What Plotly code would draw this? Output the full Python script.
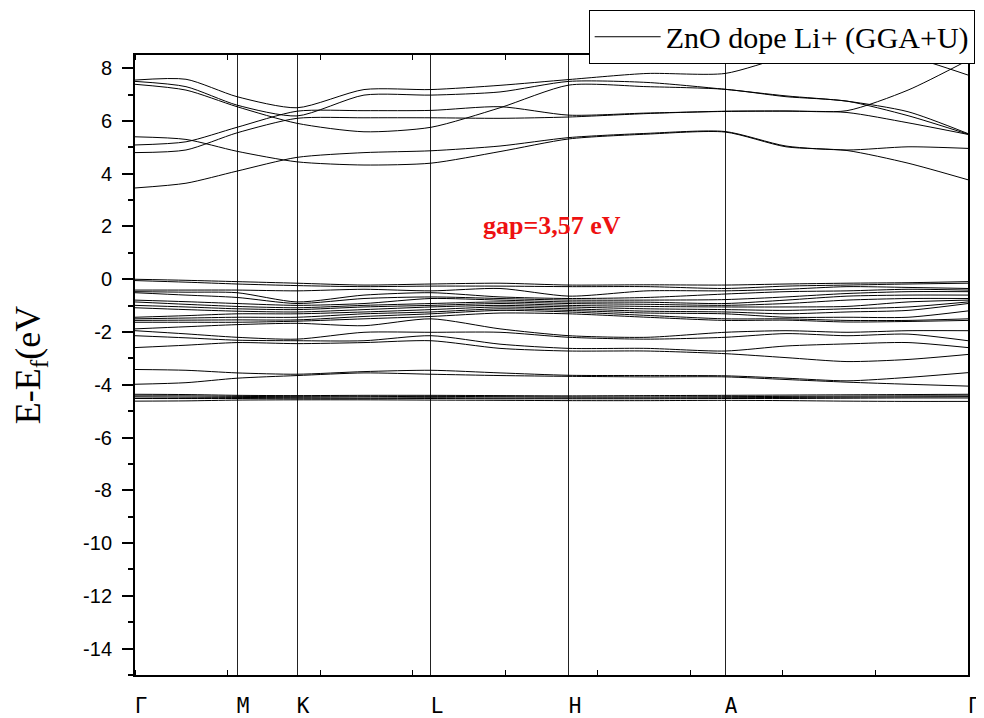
import plotly.graph_objects as go

# High-symmetry path
KPATH_LABELS = ['Γ', 'M', 'K', 'L', 'H', 'A', 'Γ']
KPATH_POS = [0.0, 0.1225, 0.1945, 0.3553, 0.5210, 0.7083, 1.0]
# k positions where band energies were read
K_SAMPLES = [0.0, 0.0612, 0.1225, 0.1945, 0.2749, 0.3553, 0.4382, 0.5210,
             0.6146, 0.7083, 0.7815, 0.8547, 0.9280, 1.0]

# Energy axis ticks
Y_TICKS = [8, 6, 4, 2, 0, -2, -4, -6, -8, -10, -12, -14]
Y_TICK_TEXT = ['8', '6', '4', '2', '0', '-2', '-4', '-6', '-8', '-10', '-12', '-14']

# Conduction bands (eV)
cb1 = [3.46, 3.64, 4.10, 4.62, 4.80, 4.87, 5.05, 5.37, 5.53, 5.60, 5.05, 4.90, 5.02, 4.96]
cb2 = [5.40, 5.30, 4.85, 4.45, 4.33, 4.40, 4.84, 5.32, 5.50, 5.58, 5.02, 4.88, 4.40, 3.77]
cb3 = [4.80, 4.90, 5.55, 6.10, 6.12, 6.12, 6.10, 6.15, 6.28, 6.37, 6.38, 6.39, 7.17, 8.30]
cb4 = [5.09, 5.21, 5.76, 6.37, 6.39, 6.40, 6.54, 6.22, 6.30, 6.36, 6.37, 6.32, 5.93, 5.49]
cb5 = [7.39, 7.17, 6.54, 5.91, 5.59, 5.76, 6.50, 7.36, 7.30, 7.20, 6.92, 6.75, 6.20, 5.50]
cb6 = [7.55, 7.58, 6.92, 6.50, 7.19, 7.19, 7.35, 7.57, 7.80, 7.80, 8.43, 8.80, 8.45, 7.74]
cb7 = [7.50, 7.30, 6.60, 6.19, 6.98, 6.98, 7.10, 7.50, 7.46, 7.20, 6.95, 6.75, 6.35, 5.52]

# Upper valence levels read at each k sample (eV, top to bottom)
vb_k0 = [0.00, -0.05, -0.41, -0.47, -0.51, -0.79, -0.86, -0.99, -1.08, -1.44, -1.50, -1.56, -1.63, -1.88, -1.95, -2.14, -2.59]
vb_k1 = [-0.04, -0.11, -0.41, -0.49, -0.60, -0.85, -0.95, -1.05, -1.15, -1.38, -1.47, -1.55, -1.63, -1.80, -2.07, -2.22, -2.50]
vb_k2 = [-0.09, -0.18, -0.41, -0.51, -0.69, -0.92, -1.03, -1.12, -1.21, -1.31, -1.44, -1.54, -1.63, -1.72, -2.20, -2.31, -2.40]
vb_k3 = [-0.15, -0.24, -0.44, -0.86, -0.92, -0.99, -1.08, -1.15, -1.24, -1.31, -1.44, -1.54, -1.59, -1.67, -2.27, -2.33, -2.44]
vb_k4 = [-0.22, -0.28, -0.38, -0.60, -0.73, -0.92, -0.99, -1.05, -1.15, -1.24, -1.31, -1.41, -1.50, -1.76, -2.01, -2.33, -2.40]
vb_k5 = [-0.18, -0.26, -0.44, -0.51, -0.67, -0.73, -0.92, -0.99, -1.05, -1.15, -1.24, -1.31, -1.41, -1.50, -2.01, -2.14, -2.33]
vb_k6 = [-0.15, -0.26, -0.35, -0.67, -0.73, -0.79, -0.86, -0.92, -0.99, -1.05, -1.12, -1.18, -1.28, -1.88, -2.01, -2.46, -2.62]
vb_k7 = [-0.22, -0.28, -0.64, -0.73, -0.79, -0.86, -0.92, -0.99, -1.05, -1.12, -1.18, -1.24, -1.31, -2.14, -2.20, -2.62, -2.72]
vb_k8 = [-0.21, -0.28, -0.44, -0.69, -0.79, -0.87, -0.95, -1.03, -1.12, -1.21, -1.28, -1.37, -1.44, -2.20, -2.27, -2.62, -2.72]
vb_k9 = [-0.22, -0.35, -0.44, -0.56, -0.77, -0.92, -0.99, -1.05, -1.15, -1.24, -1.31, -1.50, -1.56, -2.01, -2.20, -2.72, -2.82]
vb_k10 = [-0.18, -0.26, -0.38, -0.47, -0.67, -0.79, -0.92, -1.05, -1.18, -1.31, -1.44, -1.50, -1.55, -1.95, -2.06, -2.53, -2.97]
vb_k11 = [-0.15, -0.22, -0.28, -0.44, -0.54, -0.64, -0.79, -1.03, -1.12, -1.24, -1.44, -1.56, -1.62, -2.01, -2.14, -2.45, -3.12]
vb_k12 = [-0.13, -0.18, -0.31, -0.38, -0.47, -0.60, -0.73, -0.86, -1.05, -1.18, -1.44, -1.56, -1.60, -1.95, -2.08, -2.40, -3.04]
vb_k13 = [-0.09, -0.15, -0.35, -0.41, -0.47, -0.60, -0.73, -0.79, -0.86, -0.92, -1.20, -1.50, -1.56, -1.95, -2.33, -2.59, -2.85]

# Lower valence bands (eV)
lb1 = [-3.42, -3.45, -3.55, -3.60, -3.50, -3.45, -3.55, -3.64, -3.65, -3.66, -3.75, -3.85, -3.72, -3.54]
lb2 = [-3.98, -3.92, -3.75, -3.65, -3.55, -3.60, -3.65, -3.68, -3.70, -3.70, -3.80, -3.90, -3.98, -4.05]
db1 = [-4.36, -4.37, -4.40, -4.41, -4.40, -4.40, -4.41, -4.42, -4.41, -4.40, -4.39, -4.38, -4.37, -4.36]
db2 = [-4.42, -4.42, -4.44, -4.45, -4.45, -4.44, -4.45, -4.46, -4.46, -4.45, -4.44, -4.43, -4.42, -4.42]
db3 = [-4.46, -4.47, -4.48, -4.49, -4.50, -4.49, -4.50, -4.50, -4.50, -4.49, -4.48, -4.47, -4.46, -4.45]
db4 = [-4.52, -4.52, -4.52, -4.53, -4.53, -4.52, -4.53, -4.53, -4.53, -4.52, -4.52, -4.51, -4.50, -4.50]
db5 = [-4.62, -4.61, -4.58, -4.57, -4.57, -4.58, -4.59, -4.60, -4.60, -4.59, -4.60, -4.62, -4.63, -4.63]

SERIES_NAME = 'ZnO dope Li+ (GGA+U)'
GAP_TEXT = 'gap=3,57 eV'

vb_columns = [vb_k0, vb_k1, vb_k2, vb_k3, vb_k4, vb_k5, vb_k6, vb_k7,
              vb_k8, vb_k9, vb_k10, vb_k11, vb_k12, vb_k13]
valence_upper = [list(b) for b in zip(*vb_columns)]

bands = [cb1, cb2, cb3, cb4, cb5, cb6, cb7] + valence_upper + [lb1, lb2, db1, db2, db3, db4, db5]

fig = go.Figure()
for i, b in enumerate(bands):
    fig.add_trace(go.Scatter(
        x=K_SAMPLES, y=b, mode='lines',
        line=dict(color='black', width=1, shape='spline', smoothing=0.7),
        name=SERIES_NAME, showlegend=(i == 0), hoverinfo='skip'))

fig.add_annotation(x=0.5, y=2.03, xref='x', yref='y', text='<b>' + GAP_TEXT + '</b>',
                   showarrow=False,
                   font=dict(family='Liberation Serif', size=26, color='#ee1111'))

# The page body adds an 8px offset; the figure is sized/margined to compensate.
fig.update_layout(
    width=976, height=710,
    margin=dict(l=127, r=16, t=47, b=43, autoexpand=False),
    paper_bgcolor='white', plot_bgcolor='white',
    showlegend=True,
    legend=dict(x=1.008, y=1.073, xanchor='right', yanchor='top',
                bgcolor='white', bordercolor='black', borderwidth=1,
                font=dict(family='Liberation Serif', size=30, color='black'),
                itemwidth=66, tracegroupgap=0),
    xaxis=dict(range=[0, 1], tickmode='array', tickvals=KPATH_POS, ticktext=KPATH_LABELS,
               ticks='', showgrid=True, gridcolor='#222222', gridwidth=1,
               showline=True, linecolor='black', linewidth=2, mirror='allticks',
               zeroline=False, automargin=False,
               tickfont=dict(family='DejaVu Sans Mono', size=21, color='black'),
               ticklabelstandoff=11, ticklabelshift=6,
               minor=dict(ticks='inside', tickmode='linear', tick0=0, dtick=1/9,
                          ticklen=5, tickcolor='black', showgrid=False)),
    yaxis=dict(range=[-15, 8.5], tickmode='array', tickvals=Y_TICKS, ticktext=Y_TICK_TEXT,
               ticks='outside', ticklen=11, tickwidth=2, tickcolor='black',
               minor=dict(ticks='outside', tickmode='linear', tick0=0, dtick=1,
                          ticklen=5, tickwidth=2, tickcolor='black'),
               showgrid=False, zeroline=False, automargin=False,
               showline=True, linecolor='black', linewidth=2, mirror=True,
               ticklabelstandoff=6,
               tickfont=dict(family='Liberation Sans', size=20, color='black'),
               title=dict(text='E-E<sub>f</sub>(eV', standoff=36,
                          font=dict(family='Liberation Serif', size=36, color='black'))),
)

fig.write_html('out.html')
